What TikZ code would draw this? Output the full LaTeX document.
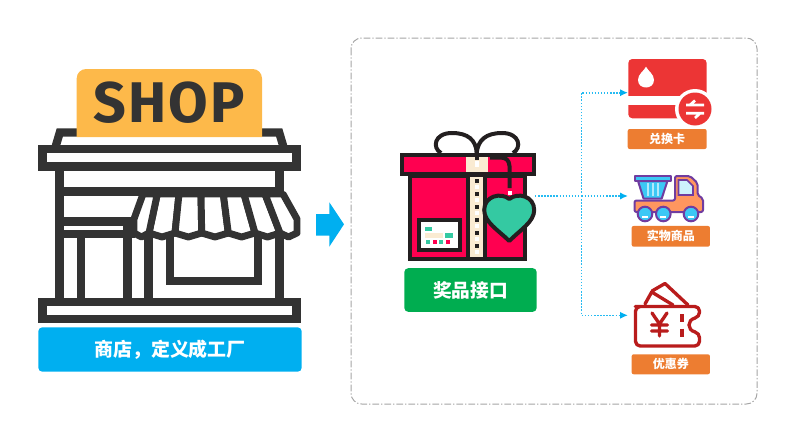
\documentclass[tikz,border=0pt]{standalone}
\usepackage{fontspec}
\setmainfont{Fira Sans}
\newfontfamily\cjk{Noto Sans CJK SC}
\usetikzlibrary{arrows.meta}
\definecolor{shopdark}{RGB}{51,51,51}
\definecolor{signyellow}{RGB}{253,185,74}
\definecolor{skyblue}{RGB}{0,175,240}
\definecolor{giftred}{RGB}{255,0,80}
\definecolor{ribboncream}{RGB}{250,235,210}
\definecolor{heartteal}{RGB}{52,201,162}
\definecolor{giftdark}{RGB}{35,31,32}
\definecolor{labelgreen}{RGB}{0,173,80}
\definecolor{labelorange}{RGB}{237,125,49}
\definecolor{cardred}{RGB}{236,53,53}
\definecolor{truckpurple}{RGB}{112,60,160}
\definecolor{truckorange}{RGB}{255,150,95}
\definecolor{truckblue}{RGB}{60,200,245}
\definecolor{couponred}{RGB}{185,28,28}
\tikzset{
  shopline/.style={draw=shopdark,line width=6.2pt,line join=miter},
  awningstrip/.style={draw=shopdark,fill=white,line width=5.2pt,line join=round},
  giftline/.style={draw=giftdark,line width=3pt},
  linkline/.style={draw=skyblue!85!white,line width=1.2pt,dash pattern={on 1.1pt off 1.2pt}},
  linktip/.style={-{Latex[length=6pt,width=5.5pt,color=skyblue]}},
  banner/.style={rounded corners=3pt,inner sep=0pt,text=white,font=\cjk\bfseries,align=center},
  smalltag/.style={banner,fill=labelorange,rounded corners=1.5pt,font=\cjk\bfseries\fontsize{9pt}{11pt}\selectfont},
  truckline/.style={draw=truckpurple,line width=1.5pt,line join=round},
  couponline/.style={draw=couponred,line width=2.5pt,line join=round,line cap=round},
}
\begin{document}
\begin{tikzpicture}[x=0.75pt,y=0.75pt,yscale=-1,xscale=1]
\useasboundingbox (0,0) rectangle (800,432);

%Panel
\draw [draw={rgb, 255:red, 165; green, 165; blue, 165 },line width=0.75,dash pattern={on 5pt off 1.5pt on 1pt off 1.5pt},rounded corners=8pt] (351,38) rectangle (757,404);

%Shop roof
\draw [shopline] (55.5,147) -- (59.8,132.5) -- (279.2,132.5) -- (283.5,147);
%Shop sign
\fill [signyellow] (76.7,137) [rounded corners=7pt] -- (76.7,69) -- (262,69) [sharp corners] -- (262,137) -- cycle;
\node (shopsign) at (169.3,102.5) [text=shopdark,inner sep=0pt,font=\bfseries\fontsize{43pt}{43pt}\selectfont\addfontfeature{LetterSpace=4}] {SHOP};
%Shop cornice and base
\draw [shopline] (42.5,149.2) rectangle (296.5,166.5);
\draw [shopline] (42.5,301.8) rectangle (296.5,319);
%Shop walls
\draw [shopline] (59.5,170) -- (59.5,298);
\draw [shopline] (279.5,170) -- (279.5,298);
%Shop door
\draw [shopline] (59.5,221.5) -- (135,221.5);
\draw [shopline] (59.5,234) -- (135,234);
\draw [shopline] (81,234) -- (81,298);
\draw [shopline] (127.5,221.5) -- (127.5,298);
\draw [shopline] (148.5,236) -- (148.5,298);
%Shop window
\draw [shopline] (170,236) -- (170,281) -- (258,281) -- (258,236);
%Shop awning
\foreach \ta/\ba/\tb/\bb in {157.3/149/179/175, 179/175/201/201.7, 201/201.7/223.3/228.3, 223.3/228.3/244/255, 244/255/265/280}{
  \draw [awningstrip] (\ta,194) -- (\ba,233) -- ({(\ba+\bb)/2},237) -- (\bb,233) -- (\tb,194) -- cycle;
}
\draw [awningstrip] (143,194) -- (134,219) -- (134,233) -- (141.5,237) -- (149,233) -- (157.3,194) -- cycle;
\draw [awningstrip] (265,194) -- (280,233) -- (288.5,237) -- (297,233) -- (297,219) -- (283,194) -- cycle;
\draw [shopline] (59.5,191.5) -- (279.5,191.5);

%Shop label
\fill [skyblue,rounded corners=3pt] (38.3,327.3) rectangle (301.7,371.7);
\node (shoplabel) at (170,349.5) [banner,font=\cjk\bfseries\fontsize{14.2pt}{17pt}\selectfont] {商店，定义成工厂};

%Big arrow
\fill [skyblue] (316,214) -- (329.3,214) -- (329.3,202.3) -- (344,224.3) -- (329.3,246.7) -- (329.3,235.7) -- (316,235.7) -- cycle;

%Gift bow
\draw [giftline,fill=white] (476.7,153) .. controls (476,140) and (468,133) .. (452,133) .. controls (434,133) and (432,148) .. (441,153);
\draw [giftline,fill=white] (476.7,153) .. controls (478,140) and (486,133) .. (502,133) .. controls (520,133) and (522,148) .. (513,153);
%Gift box
\draw [giftline,fill=giftred] (410,176) rectangle (525,259);
\draw [giftline,fill=giftred] (401.5,154.5) rectangle (534.2,173.5);
%Gift ribbon
\draw [giftline,fill=ribboncream] (468,175) rectangle (485.3,259);
\fill [ribboncream] (466,157) rectangle (487.5,171.5);
\foreach \y in {178.5,191.5,204.5,217.5,230.5,243.5}{
  \fill [giftdark] (474.7,\y) rectangle (478.7,\y+4);
  \fill [white] (474.7,\y+6.5) rectangle (478.7,\y+10.5);
}
\draw [giftline] (476.7,155) -- (476.7,160);
\fill [white] (474.7,161) rectangle (478.7,167);
%Gift tag string
\draw [giftline] (490,157.5) -- (500,157.5) .. controls (506,157.5) and (509,160) .. (509.5,166) -- (509.5,188);
\fill [white,draw=giftred,line width=0.75pt] (507,190) rectangle (512,195);
%Gift heart
\draw [giftline,fill=heartteal,line join=round] (509.3,199) .. controls (518,192) and (534.2,196) .. (534.2,210) .. controls (534.2,222) and (520,230) .. (509.3,241) .. controls (498,230) and (484.2,222) .. (484.2,210) .. controls (484.2,196) and (501,192) .. (509.3,199) -- cycle;
%Gift sticker
\draw [giftline,fill=white] (418.5,220) rectangle (460,250);
\fill [heartteal] (425,226.5) rectangle (432,230.5);
\fill [ribboncream] (425,233) rectangle (443,237.5);
\fill [heartteal] (445,233) rectangle (453,237.5);
\foreach \x/\c in {425/heartteal,432/giftred,438/heartteal,445/giftred}{
  \fill [\c] (\x+.5,239.5) rectangle (\x+4.5,243.5);
}
\node (giftlabel) at (470.5,290) [minimum width=132.4*0.75pt,minimum height=43.7*0.75pt,fill=labelgreen,banner,font=\cjk\bfseries\fontsize{14pt}{17pt}\selectfont] {奖品接口};

%Card
\fill [cardred,rounded corners=3pt] (628.3,59) rectangle (706.7,118.3);
\fill [white] (628.3,95.7) rectangle (680,105);
\fill [white] (646,66.7) .. controls (648,71) and (654,74) .. (654,80) .. controls (654,90) and (638,90) .. (638,80) .. controls (638,74) and (644,71) .. (646,66.7) -- cycle;
\fill [white] (695,109) circle (20);
\fill [cardred] (695,109) circle (16.5);
\draw [white,line width=2pt] (686,105) -- (704,105) (690,105) -- (695,100.5);
\draw [white,line width=2pt] (686,113.3) -- (704,113.3) (700,113.3) -- (695,118);
\coordinate (card) at (628,92.7);
\node (cardlabel) at (667.2,139) [minimum width=79*0.75pt,minimum height=20*0.75pt,smalltag] {兑换卡};

%Truck basket
\draw [truckline,fill=truckblue] (638,181) -- (667.5,181) -- (661.7,198.5) -- (643.5,198.5) -- cycle;
\draw [white!60!truckblue,line width=0.9pt] (648,183) -- (648,196) (653,183) -- (653,196) (658,183) -- (658,196);
\draw [truckline,fill=truckblue] (634.5,175.5) rectangle (671,180.5);
%Truck body
\draw [truckline,fill=truckorange,rounded corners=1.5pt] (634.5,200.5) -- (675,200.5) -- (675,176) -- (690,176) -- (697.5,183) -- (697.5,195) -- (703,198.5) -- (703,212) -- (634.5,212) -- cycle;
\fill [truckblue!25!white,draw=truckpurple,line width=1.2pt] (678.5,180) -- (687,180) -- (693,186) -- (693,195) -- (678.5,195) -- cycle;
%Truck wheels
\foreach \x in {645,663.3,691}{
  \draw [truckline,fill=truckblue] (\x,214) circle (7.3);
  \draw [white,line width=0.9pt] (\x-3,217) -- (\x+3,217);
}
\coordinate (truck) at (628,196);
\node (trucklabel) at (670.8,236.3) [minimum width=78.3*0.75pt,minimum height=20.7*0.75pt,smalltag] {实物商品};

%Coupon
\draw [couponline] (645,304) -- (651.7,292) -- (673,305) (652,291) -- (665,283.5) -- (688,305);
\draw [couponline,rounded corners=3.5pt] (640,306.5) -- (699.5,306.5) -- (699.5,317) .. controls (687,320) and (687,330) .. (699.5,333) -- (699.5,346) -- (635.5,346) -- (635.5,306.5) -- cycle;
\draw [couponline] (652,313) -- (659.5,324) -- (667,313) (659.5,324) -- (659.5,336) (651.5,325) -- (667.5,325) (651.5,331) -- (667.5,331);
\draw [couponline,line width=3pt,line cap=butt] (681.7,314) -- (681.7,321.5) (681.7,328.5) -- (681.7,336.5);
\coordinate (coupon) at (628,315.3);
\node (couponlabel) at (670.8,364.3) [minimum width=78.3*0.75pt,minimum height=20*0.75pt,smalltag] {优惠券};

%Links
\coordinate (giftout) at (535,196);
\coordinate (fork) at (581.5,196);
\draw [linkline] (giftout) -- (fork);
\draw [linkline,linktip] (fork) -- (truck);
\draw [linkline,linktip] (fork) |- (card);
\draw [linkline,linktip] (fork) |- (coupon);

\end{tikzpicture}
\end{document}
